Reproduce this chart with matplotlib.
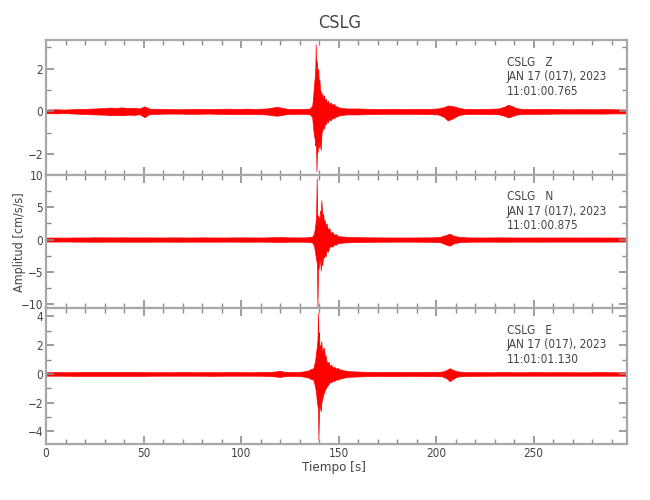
import numpy as np
import matplotlib
matplotlib.use('Agg')
import matplotlib.pyplot as plt
from matplotlib.ticker import MultipleLocator

plt.rcParams['font.stretch'] = 'condensed'

t_z = [0, 5, 10, 15, 20, 25, 30, 33, 36, 39, 42, 45, 48, 50.5, 53, 58, 63, 68, 73, 78,
       83, 88, 93, 98, 103, 108, 113, 116, 118.5, 121, 124, 128, 132, 135,
       136.5, 137.0, 137.4, 137.8, 138.1, 138.3, 138.5, 138.7, 139.0, 139.3, 139.6, 139.9,
       140.2, 140.5, 140.9, 141.3, 141.7, 142.1, 142.6, 143.0, 143.5, 144.0, 144.6, 145.2,
       146.0, 146.8, 147.6, 148.5, 149.5, 150.5, 152, 154,
       160, 166, 172, 178, 184, 190, 196, 201, 204, 206, 208, 210, 212,
       215, 220, 226, 232, 235, 237, 239, 241, 244, 250, 256, 262, 268, 274, 280, 286, 292, 298]
up_z = [.09, .10, .09, .11, .12, .14, .16, .18, .17, .19, .16, .17, .14, .24, .13, .12, .11, .10, .11, .12,
        .11, .12, .13, .12, .13, .12, .14, .18, .22, .17, .12, .11, .12, .13,
        .25, .7, 1.2, 1.6, 2.0, 3.15, 2.1, 2.4, 2.2, 1.7, 2.0, 1.3,
        1.5, 1.0, .95, .7, .85, .6, .75, .5, .6, .42, .5, .35,
        .42, .3, .35, .25, .22, .18, .16, .14,
        .14, .12, .11, .12, .11, .12, .12, .14, .20, .28, .26, .22, .16,
        .12, .11, .12, .14, .22, .31, .25, .16, .12, .11, .12, .11, .10, .11, .10, .11, .10, .09]
lo_z = [-.08, -.09, -.08, -.10, -.12, -.14, -.15, -.17, -.16, -.18, -.15, -.16, -.13, -.27, -.12, -.11, -.10, -.10, -.11, -.11,
        -.10, -.11, -.12, -.12, -.12, -.12, -.14, -.18, -.20, -.16, -.12, -.11, -.11, -.12,
        -.25, -.8, -1.1, -1.3, -1.6, -1.5, -1.7, -2.8, -1.6, -1.9, -1.5, -1.7,
        -1.4, -1.6, -1.8, -1.0, -.9, -.7, -.8, -.55, -.6, -.45, -.5, -.35,
        -.42, -.3, -.32, -.25, -.22, -.18, -.16, -.14,
        -.14, -.12, -.11, -.11, -.11, -.11, -.12, -.14, -.25, -.42, -.35, -.25, -.16,
        -.12, -.11, -.12, -.13, -.20, -.28, -.22, -.15, -.12, -.11, -.11, -.10, -.10, -.10, -.10, -.10, -.09, -.09]

t_n = [0, 5, 10, 15, 20, 25, 30, 35, 40, 45, 50, 55, 60, 65, 70, 75, 80, 85, 90, 95,
       100, 105, 110, 115, 120, 125, 130, 134,
       136.5, 137.4, 138.0, 138.5, 138.8, 139.0, 139.2, 139.5, 139.8, 140.1, 140.4, 140.7,
       140.9, 141.2, 141.5, 141.8, 142.1, 142.5, 142.9, 143.4, 143.9, 144.5, 145.2, 146,
       146.8, 147.7, 148.6, 149.6, 151, 153, 155, 158, 161,
       168, 175, 182, 190, 197, 202, 205, 207, 209, 212, 217, 224, 231, 238, 245, 252,
       259, 266, 273, 280, 287, 294, 298]
up_n = [.30, .32, .30, .33, .32, .35, .34, .33, .35, .33, .34, .33, .32, .34, .33, .32, .34, .33, .32, .33,
        .34, .33, .32, .35, .38, .34, .33, .35,
        .45, .9, 2.0, 3.5, 9.5, 4.0, 3.0, 3.8, 2.7, 3.5, 3.2, 4.5,
        4.0, 6.1, 4.5, 3.5, 4.0, 2.8, 3.0, 2.2, 2.5, 1.5, 1.8, 1.0,
        1.2, .75, .85, .55, .5, .45, .42, .38, .36,
        .34, .33, .32, .33, .34, .40, .70, .90, .60, .40, .33, .32, .34, .33, .32, .33,
        .32, .33, .32, .33, .32, .31, .30]
lo_n = [-.30, -.31, -.30, -.32, -.32, -.34, -.33, -.32, -.34, -.33, -.33, -.33, -.32, -.33, -.33, -.32, -.33, -.33, -.32, -.32,
        -.33, -.33, -.32, -.34, -.37, -.33, -.33, -.35,
        -.45, -.9, -2.0, -3.0, -3.5, -5.0, -10.4, -4.0, -4.5, -3.5, -3.2, -3.8,
        -4.8, -3.0, -4.0, -3.5, -2.6, -2.8, -2.4, -2.6, -1.6, -1.9, -1.2, -1.0,
        -1.1, -.75, -.8, -.55, -.5, -.45, -.42, -.38, -.36,
        -.34, -.33, -.32, -.33, -.34, -.40, -.75, -.95, -.60, -.40, -.33, -.32, -.33, -.33, -.32, -.33,
        -.32, -.32, -.32, -.32, -.32, -.31, -.30]

t_e = [0, 5, 10, 15, 20, 25, 30, 35, 40, 45, 50, 55, 60, 65, 70, 75, 80, 85, 90, 95,
       100, 105, 110, 115, 118, 120, 122, 125, 130, 134,
       136, 137.1, 138.0, 138.5, 138.8, 139.2, 139.5, 139.7, 140.0, 140.3, 140.6, 140.9,
       141.2, 141.5, 141.8, 142.2, 142.6, 143.0, 143.4, 143.8, 144.3, 144.9, 145.5, 146.2,
       147, 147.7, 148.6, 149.5, 150.5, 151.6, 152.8, 155, 158,
       164, 170, 177, 184, 191, 198, 203, 205.5, 207, 208.5, 211, 215, 222, 229, 236, 243,
       250, 257, 264, 271, 278, 285, 292, 298]
up_e = [.12, .13, .12, .13, .14, .13, .14, .13, .14, .13, .13, .12, .13, .12, .13, .12, .13, .13, .12, .13,
        .13, .12, .13, .14, .18, .22, .16, .13, .14, .22,
        .35, .40, .9, 1.5, 1.8, 2.4, 4.24, 2.5, 2.9, 1.6, 2.0, 1.9,
        2.27, 1.5, 1.6, 1.8, 1.8, 1.1, 1.3, .9, .75, .85, .55, .65,
        .45, .5, .38, .42, .32, .3, .25, .2, .18,
        .15, .13, .14, .13, .13, .14, .16, .28, .40, .30, .18, .13, .13, .12, .13, .12,
        .13, .12, .13, .12, .12, .13, .12, .12]
lo_e = [-.12, -.12, -.12, -.13, -.13, -.13, -.13, -.13, -.13, -.13, -.13, -.12, -.12, -.12, -.12, -.12, -.12, -.13, -.12, -.12,
        -.12, -.12, -.12, -.14, -.18, -.20, -.16, -.13, -.14, -.22,
        -.35, -.40, -.9, -1.3, -1.8, -2.2, -2.5, -4.56, -2.5, -2.2, -2.4, -2.6,
        -2.0, -1.8, -1.67, -1.4, -1.3, -1.1, -1.0, -.9, -.80, -.7, -.55, -.6,
        -.45, -.5, -.38, -.4, -.32, -.3, -.25, -.2, -.18,
        -.15, -.13, -.14, -.13, -.13, -.14, -.16, -.30, -.50, -.35, -.18, -.13, -.13, -.12, -.12, -.12,
        -.12, -.12, -.12, -.12, -.12, -.12, -.12, -.12]

comps = ['Z', 'N', 'E']
horas = ['11:01:00.765', '11:01:00.875', '11:01:01.130']
ylims = [(-2.98, 3.35), (-10.6, 10.0), (-4.87, 4.59)]
ymaj = [2, 5, 2]
ymin = [1, 2.5, 1]
datos = [(t_z, up_z, lo_z), (t_n, up_n, lo_n), (t_e, up_e, lo_e)]

gris = '#444444'
fig = plt.figure(figsize=(6.5, 5), dpi=100)
pos = [[0.0708, 0.65, 0.894, 0.27],
       [0.0708, 0.384, 0.894, 0.266],
       [0.0708, 0.112, 0.894, 0.272]]

for i in range(3):
    ax = fig.add_axes(pos[i])
    t, up, lo = datos[i]
    assert len(t) == len(up) == len(lo), (i, len(t), len(up), len(lo))
    ax.fill_between(t, lo, up, color='#ff0000', lw=0.5)
    ax.set_xlim(0, 298)
    ax.set_ylim(ylims[i])
    ax.xaxis.set_major_locator(MultipleLocator(50))
    ax.xaxis.set_minor_locator(MultipleLocator(10))
    ax.yaxis.set_major_locator(MultipleLocator(ymaj[i]))
    ax.yaxis.set_minor_locator(MultipleLocator(ymin[i]))
    ax.tick_params(which='both', direction='in', top=True, right=True,
                   color='#8c8c8c', labelcolor=gris, labelsize=8.5, pad=2)
    ax.tick_params(which='major', length=6, width=1.2)
    ax.tick_params(which='minor', length=3.6, width=1)
    for s in ax.spines.values():
        s.set_color('#a8a8a8')
        s.set_linewidth(1.6)
    if i < 2:
        ax.set_xticklabels([])
    ax.text(0.793, 0.885, 'CSLG   ' + comps[i] + '\nJAN 17 (017), 2023\n' + horas[i],
            transform=ax.transAxes, va='top', ha='left', fontsize=8.5,
            color=gris, linespacing=1.15)

fig.text(0.522, 0.955, 'CSLG', ha='center', va='center', fontsize=13, color=gris)
fig.text(0.513, 0.064, 'Tiempo [s]', ha='center', va='center', fontsize=9.5, color=gris)
fig.text(0.03, 0.515, 'Amplitud [cm/s/s]', ha='center', va='center', rotation=90,
         fontsize=9, color=gris)

plt.savefig('out.png', dpi=100)
